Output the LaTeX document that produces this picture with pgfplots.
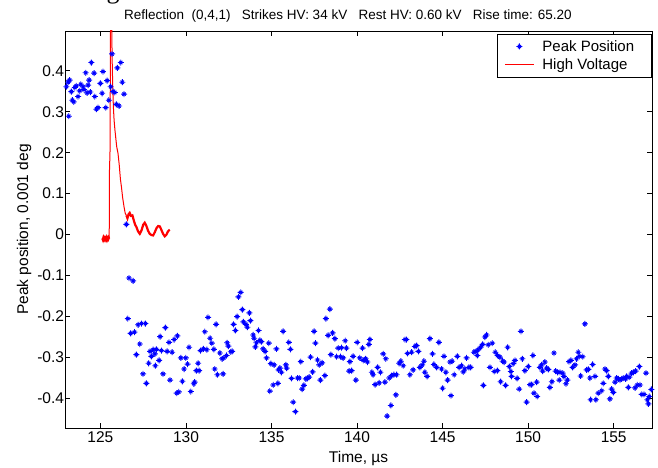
\documentclass[border=0pt]{standalone}
\usepackage{fontspec}
\setmainfont{Liberation Sans}
\newfontfamily\serifg{Liberation Serif}
\usepackage{pgfplots}
\pgfplotsset{compat=1.18}
\definecolor{mblue}{RGB}{0,0,255}
\definecolor{mred}{RGB}{255,0,0}
\pgfdeclareplotmark{mstar}{%
 \pgfpathmoveto{\pgfqpoint{-\pgfplotmarksize}{0pt}}\pgfpathlineto{\pgfqpoint{\pgfplotmarksize}{0pt}}%
 \pgfpathmoveto{\pgfqpoint{0pt}{-\pgfplotmarksize}}\pgfpathlineto{\pgfqpoint{0pt}{\pgfplotmarksize}}%
 \pgfpathmoveto{\pgfqpoint{-0.55\pgfplotmarksize}{-0.55\pgfplotmarksize}}\pgfpathlineto{\pgfqpoint{0.55\pgfplotmarksize}{0.55\pgfplotmarksize}}%
 \pgfpathmoveto{\pgfqpoint{-0.55\pgfplotmarksize}{0.55\pgfplotmarksize}}\pgfpathlineto{\pgfqpoint{0.55\pgfplotmarksize}{-0.55\pgfplotmarksize}}%
 \pgfusepathqstroke}
\pgfplotstableread{
x y
123.01 0.361
123.11 0.372
123.15 0.289
123.20 0.377
123.30 0.349
123.36 0.328
123.44 0.324
123.50 0.359
123.59 0.363
123.69 0.337
123.79 0.351
123.85 0.367
123.98 0.361
124.04 0.354
124.14 0.395
124.22 0.346
124.28 0.365
124.34 0.377
124.41 0.348
124.47 0.420
124.63 0.394
124.67 0.337
124.76 0.306
124.86 0.310
125.00 0.369
125.10 0.345
125.15 0.398
125.31 0.310
125.39 0.376
125.49 0.328
125.60 0.361
125.68 0.441
125.74 0.349
125.84 0.347
125.93 0.318
125.99 0.407
126.09 0.314
126.19 0.420
126.28 0.372
126.38 0.343
126.52 0.025
126.67 -0.106
126.91 -0.113
126.60 -0.205
126.77 -0.241
126.99 -0.238
127.20 -0.220
127.40 -0.217
127.63 -0.217
127.30 -0.267
127.10 -0.293
127.82 -0.314
127.49 -0.340
127.69 -0.363
127.90 -0.285
128.08 -0.281
128.27 -0.280
127.98 -0.297
128.18 -0.291
128.57 -0.283
128.90 -0.285
129.19 -0.287
128.43 -0.307
128.21 -0.320
128.80 -0.227
128.49 -0.249
129.01 -0.263
129.31 -0.256
129.50 -0.247
128.66 -0.340
129.07 -0.355
129.70 -0.301
129.99 -0.301
130.09 -0.316
129.89 -0.328
130.18 -0.275
129.46 -0.387
129.58 -0.384
129.79 -0.358
130.28 -0.383
130.46 -0.364
130.51 -0.360
130.71 -0.314
130.61 -0.332
130.77 -0.332
130.85 -0.283
131.02 -0.279
131.22 -0.281
131.10 -0.237
131.29 -0.202
131.41 -0.253
131.51 -0.265
131.63 -0.280
131.76 -0.219
131.68 -0.328
131.84 -0.342
132.17 -0.340
131.98 -0.289
132.21 -0.301
132.11 -0.303
132.37 -0.295
132.41 -0.264
132.48 -0.272
132.62 -0.286
132.70 -0.285
132.78 -0.219
132.89 -0.234
132.99 -0.200
133.07 -0.152
133.20 -0.141
133.30 -0.183
133.36 -0.213
133.50 -0.219
133.71 -0.191
133.77 -0.210
133.59 -0.226
133.93 -0.245
133.98 -0.253
134.24 -0.234
134.12 -0.264
134.32 -0.258
134.41 -0.261
134.06 -0.274
134.51 -0.279
134.63 -0.285
134.84 -0.265
134.71 -0.301
134.96 -0.315
135.15 -0.318
135.29 -0.279
135.41 -0.330
134.90 -0.382
135.10 -0.367
135.37 -0.363
135.68 -0.236
136.01 -0.263
136.11 -0.280
135.58 -0.336
135.84 -0.318
135.88 -0.326
135.49 -0.326
136.17 -0.351
136.27 -0.409
136.40 -0.432
136.52 -0.350
136.62 -0.350
136.71 -0.310
136.79 -0.377
136.89 -0.368
137.01 -0.352
137.10 -0.351
137.20 -0.348
137.28 -0.299
137.40 -0.335
137.49 -0.236
137.57 -0.265
137.69 -0.306
137.79 -0.318
137.96 -0.313
137.86 -0.355
138.12 -0.344
138.18 -0.205
138.41 -0.182
138.31 -0.246
138.57 -0.240
138.47 -0.293
138.70 -0.254
138.80 -0.298
138.90 -0.277
139.03 -0.298
139.19 -0.301
139.09 -0.276
139.38 -0.277
139.31 -0.259
139.58 -0.310
139.68 -0.332
139.54 -0.333
139.77 -0.297
139.93 -0.355
140.01 -0.263
140.16 -0.301
140.32 -0.277
140.36 -0.307
140.50 -0.303
140.61 -0.311
140.46 -0.306
140.69 -0.268
140.75 -0.256
140.87 -0.336
140.94 -0.342
141.06 -0.366
141.20 -0.324
141.29 -0.362
141.37 -0.336
141.53 -0.291
141.63 -0.360
141.68 -0.303
141.76 -0.443
141.98 -0.417
141.88 -0.350
142.02 -0.344
142.15 -0.342
142.31 -0.342
142.27 -0.391
142.46 -0.314
142.56 -0.309
142.70 -0.320
142.80 -0.256
142.89 -0.256
142.95 -0.290
143.09 -0.342
143.19 -0.287
143.28 -0.330
143.38 -0.273
143.48 -0.271
143.59 -0.285
143.67 -0.324
143.81 -0.318
143.91 -0.309
143.96 -0.336
144.10 -0.346
144.26 -0.254
144.41 -0.291
144.49 -0.317
144.65 -0.324
144.78 -0.263
144.94 -0.328
145.00 -0.375
145.08 -0.297
145.19 -0.336
145.29 -0.355
145.43 -0.311
145.56 -0.309
145.49 -0.393
145.68 -0.342
145.86 -0.297
145.97 -0.324
146.11 -0.320
146.21 -0.335
146.30 -0.328
146.40 -0.301
146.54 -0.324
146.64 -0.324
146.83 -0.287
146.95 -0.285
147.08 -0.281
147.22 -0.275
147.34 -0.268
147.03 -0.295
147.47 -0.250
147.57 -0.245
147.67 -0.269
147.38 -0.368
147.77 -0.324
147.90 -0.265
148.02 -0.334
148.20 -0.332
148.08 -0.287
148.21 -0.295
148.35 -0.299
148.39 -0.359
148.51 -0.309
148.60 -0.311
148.68 -0.368
148.80 -0.275
148.90 -0.322
148.99 -0.334
149.03 -0.346
149.13 -0.315
149.23 -0.307
149.36 -0.351
149.48 -0.377
149.58 -0.236
149.66 -0.303
149.81 -0.332
149.91 -0.409
150.01 -0.322
150.11 -0.366
150.20 -0.366
150.28 -0.295
150.34 -0.387
150.53 -0.395
150.50 -0.360
150.69 -0.324
150.79 -0.318
150.85 -0.333
150.98 -0.311
151.08 -0.326
151.18 -0.329
151.27 -0.373
151.39 -0.359
151.51 -0.289
151.61 -0.333
151.72 -0.336
151.82 -0.355
151.86 -0.336
152.02 -0.338
152.09 -0.346
152.21 -0.364
152.29 -0.355
152.39 -0.310
152.50 -0.307
152.60 -0.324
152.74 -0.318
152.83 -0.303
152.93 -0.287
152.99 -0.297
153.07 -0.345
153.19 -0.298
153.32 -0.218
153.42 -0.330
153.52 -0.329
153.65 -0.403
153.96 -0.403
153.77 -0.317
153.91 -0.346
153.61 -0.350
154.10 -0.387
154.30 -0.381
154.39 -0.363
154.49 -0.328
154.59 -0.332
154.69 -0.346
154.78 -0.401
154.88 -0.377
154.98 -0.385
155.08 -0.360
155.17 -0.350
155.27 -0.352
155.37 -0.355
155.47 -0.352
155.56 -0.350
155.70 -0.352
155.76 -0.346
155.91 -0.348
156.05 -0.338
155.86 -0.373
156.15 -0.336
156.28 -0.333
156.25 -0.374
156.38 -0.367
156.54 -0.367
156.50 -0.322
156.64 -0.390
156.77 -0.390
156.89 -0.338
156.97 -0.403
157.03 -0.413
157.08 -0.395
157.20 -0.378
}\peakdata
\pgfplotstableread{
x y
125.50 -0.010
125.52 0.020
125.53 0.157
125.56 0.200
125.60 0.600
125.65 0.600
125.68 0.440
125.72 0.360
125.76 0.310
125.80 0.279
125.85 0.255
125.90 0.235
125.95 0.215
126.03 0.198
126.10 0.170
126.17 0.135
126.23 0.116
126.30 0.090
126.38 0.068
126.45 0.052
126.52 0.047
}\hvmain
\pgfplotstableread{
x y
125.12 -0.009
125.15 -0.012
125.18 -0.008
125.21 -0.011
125.24 -0.009
125.27 -0.012
125.30 -0.009
125.33 -0.011
125.36 -0.008
125.39 -0.012
125.42 -0.009
125.45 -0.011
125.48 -0.008
125.50 -0.010
}\hvflat
\pgfplotstableread{
x y
126.52 0.047
126.58 0.040
126.65 0.050
126.71 0.053
126.78 0.046
126.87 0.047
126.95 0.035
127.03 0.024
127.10 0.019
127.20 0.008
127.30 0.002
127.40 0.010
127.50 0.024
127.59 0.029
127.68 0.022
127.78 0.010
127.88 0.002
127.98 -0.001
128.08 -0.002
128.18 0.006
128.28 0.016
128.38 0.021
128.47 0.020
128.56 0.012
128.66 0.002
128.76 -0.004
128.86 0.000
128.95 0.008
129.05 0.012
}\hvwave
\begin{document}
\begin{tikzpicture}
\useasboundingbox (0,0) rectangle (658pt,468pt);
\begin{axis}[
  at={(65pt,40pt)}, anchor=south west,
  width=587pt, height=397pt, scale only axis,
  xmin=122.93, xmax=157.24, ymin=-0.472, ymax=0.497,
  xtick={125,130,135,140,145,150,155},
  xticklabels={125,130,135,140,145,150,155},
  ytick={-0.4,-0.3,-0.2,-0.1,0,0.1,0.2,0.3,0.4},
  yticklabels={-0.4,-0.3,-0.2,-0.1,0,0.1,0.2,0.3,0.4},
  tick align=inside, major tick length=5pt,
  axis line style={line width=0.8pt},
  tick style={line width=0.8pt, black},
  tick label style={font=\fontsize{15.5}{18}\selectfont},
  yticklabel style={xshift=2.5pt},
  /pgf/number format/assume math mode=true,
  xlabel={Time, µs},
  ylabel={Peak position, 0.001 deg},
  label style={font=\fontsize{15.5}{18}\selectfont},
  xlabel style={at={(axis description cs:0.5,-0.078)}, anchor=center},
  ylabel style={at={(axis description cs:-0.0698,0.5)}, anchor=center},
  legend style={at={(rel axis cs:0.9995,0.9924)}, anchor=north east, draw=black, line width=0.6pt,
    font=\fontsize{15}{18}\selectfont, inner xsep=7pt, inner ysep=4pt,
    /tikz/row sep=2pt,
    /tikz/every odd column/.append style={column sep=6pt}},
  legend cell align=left,
  legend image code/.code={\draw[mark repeat=2,mark phase=2,#1] plot coordinates {(0pt,0pt) (14.5pt,0pt) (29pt,0pt)};},
]
\addplot[only marks, mark=mstar, mark size=3pt, color=mblue, line width=0.9pt] table {\peakdata};
\addlegendentry{\makebox[100pt][l]{Peak Position}}
\addplot[color=mred, line width=1pt, no marks] table {\hvmain};
\addlegendentry{\makebox[100pt][l]{High Voltage}}
\addplot[color=mred, line width=2.6pt, no marks, forget plot] table {\hvflat};
\addplot[color=mred, line width=2.2pt, no marks, forget plot] table {\hvwave};
\end{axis}
\node[anchor=base west, inner sep=0pt, font=\fontsize{13.5}{16}\selectfont] at (124pt,448pt)
  {Reflection\ \ (0,4,1)\ \ \ Strikes HV: 34 kV\ \ \ Rest HV: 0.60 kV\ \ \ Rise time: 65.20};
\node[anchor=base, inner sep=0pt, font=\serifg\fontsize{26}{30}\selectfont] at (113pt,469pt) {g};
\end{tikzpicture}
\end{document}
